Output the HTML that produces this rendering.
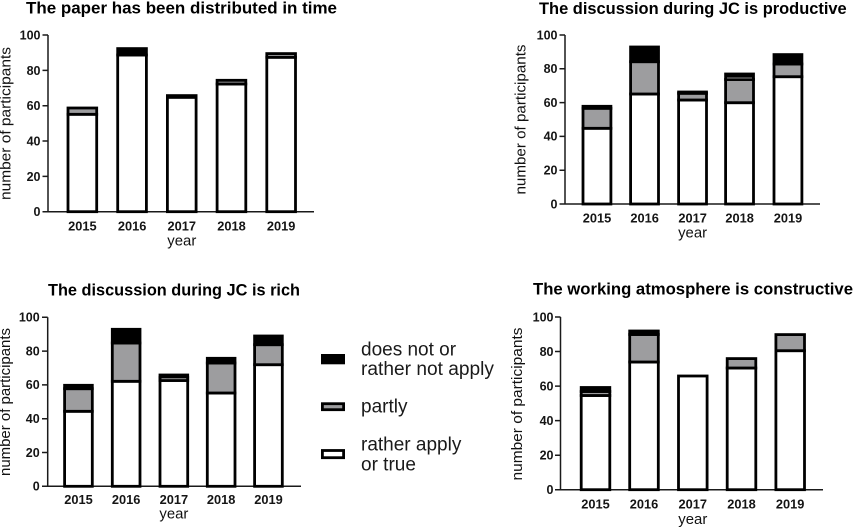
<!DOCTYPE html>
<html><head><meta charset="utf-8"><style>
html,body{margin:0;padding:0;background:#fff;}
svg{display:block;}
text{font-family:"Liberation Sans",Arial,sans-serif;fill:#151515;}
.t{font-weight:bold;font-size:17px;fill:#000;}
.tk{font-weight:bold;font-size:12.5px;fill:#1c1c1c;}
.yl{font-size:15px;fill:#111;}
.xl{font-size:15px;fill:#111;}
.lg{font-size:19px;fill:#1a1a1a;}
.ax{stroke:#1a1a1a;stroke-width:1.5;fill:none;}
.w{fill:#fff;stroke:#000;stroke-width:2.8;}
.g{fill:#9d9d9f;stroke:#000;stroke-width:2.8;}
.b{fill:#000;stroke:#000;stroke-width:2.8;}
</style></head><body>
<svg width="854" height="528" viewBox="0 0 854 528" xmlns="http://www.w3.org/2000/svg">
<rect width="854" height="528" fill="#fff"/>

<!-- ============ TOP LEFT ============ -->
<text class="t" x="26" y="13.5" textLength="311" lengthAdjust="spacingAndGlyphs">The paper has been distributed in time</text>
<path class="ax" d="M48 35 V211.7 H314 M42.5 35 H48 M42.5 70.4 H48 M42.5 105.7 H48 M42.5 141 H48 M42.5 176.4 H48 M42.5 211.7 H48"/>
<g class="tk" text-anchor="end">
<text x="40.5" y="39.5">100</text><text x="40.5" y="74.8">80</text><text x="40.5" y="110.1">60</text>
<text x="40.5" y="145.4">40</text><text x="40.5" y="180.8">20</text><text x="40.5" y="216.1">0</text>
</g>
<text class="yl" transform="translate(10.5,123.5) rotate(-90)" text-anchor="middle" textLength="153" lengthAdjust="spacingAndGlyphs">number of participants</text>
<rect class="w" x="68" y="114.3" width="28.7" height="97.4"/><rect class="g" x="68" y="108" width="28.7" height="6.3"/>
<rect class="w" x="117.7" y="55" width="28.7" height="156.7"/><rect class="b" x="117.7" y="48.6" width="28.7" height="6.4"/>
<rect class="w" x="167.4" y="97.3" width="28.7" height="114.4"/><rect class="b" x="167.4" y="95.6" width="28.7" height="1.7"/>
<rect class="w" x="217.1" y="84" width="28.7" height="127.7"/><rect class="g" x="217.1" y="80.3" width="28.7" height="3.7"/>
<rect class="w" x="266.8" y="57.3" width="28.7" height="154.4"/><rect class="g" x="266.8" y="53.6" width="28.7" height="3.7"/>
<g class="tk" text-anchor="middle">
<text x="82.4" y="230.7" textLength="28.5" lengthAdjust="spacingAndGlyphs">2015</text>
<text x="132.1" y="230.7" textLength="28.5" lengthAdjust="spacingAndGlyphs">2016</text>
<text x="181.8" y="230.7" textLength="28.5" lengthAdjust="spacingAndGlyphs">2017</text>
<text x="231.5" y="230.7" textLength="28.5" lengthAdjust="spacingAndGlyphs">2018</text>
<text x="281.2" y="230.7" textLength="28.5" lengthAdjust="spacingAndGlyphs">2019</text>
</g>
<text class="xl" x="181.8" y="245.5" text-anchor="middle" textLength="29" lengthAdjust="spacingAndGlyphs">year</text>

<!-- ============ TOP RIGHT ============ -->
<text class="t" x="539" y="14" textLength="307.7" lengthAdjust="spacingAndGlyphs">The discussion during JC is productive</text>
<path class="ax" d="M565 35 V204 H820 M559.5 35 H565 M559.5 68.8 H565 M559.5 102.6 H565 M559.5 136.4 H565 M559.5 170.2 H565 M559.5 204 H565"/>
<g class="tk" text-anchor="end">
<text x="557.5" y="39.3">100</text><text x="557.5" y="73.1">80</text><text x="557.5" y="106.9">60</text>
<text x="557.5" y="140.7">40</text><text x="557.5" y="174.5">20</text><text x="557.5" y="208.3">0</text>
</g>
<text class="yl" transform="translate(525.5,119.5) rotate(-90)" text-anchor="middle" textLength="150" lengthAdjust="spacingAndGlyphs">number of participants</text>
<rect class="w" x="583" y="128.3" width="27.9" height="75.7"/><rect class="g" x="583" y="108.3" width="27.9" height="20"/><rect class="b" x="583" y="106.3" width="27.9" height="2"/>
<rect class="w" x="630.6" y="94" width="27.9" height="110"/><rect class="g" x="630.6" y="61.7" width="27.9" height="32.3"/><rect class="b" x="630.6" y="47" width="27.9" height="14.7"/>
<rect class="w" x="678.6" y="100" width="27.9" height="104"/><rect class="g" x="678.6" y="93.3" width="27.9" height="6.7"/><rect class="b" x="678.6" y="92" width="27.9" height="1.3"/>
<rect class="w" x="725.6" y="102.7" width="27.9" height="101.3"/><rect class="g" x="725.6" y="79.5" width="27.9" height="23.2"/><rect class="b" x="725.6" y="74" width="27.9" height="5.5"/>
<line x1="727" y1="78" x2="752" y2="78" stroke="#8a8a8a" stroke-width="1"/>
<rect class="w" x="774" y="76.7" width="27.9" height="127.3"/><rect class="g" x="774" y="64" width="27.9" height="12.7"/><rect class="b" x="774" y="54.6" width="27.9" height="9.4"/>
<g class="tk" text-anchor="middle">
<text x="597" y="222.3" textLength="28.5" lengthAdjust="spacingAndGlyphs">2015</text>
<text x="644.6" y="222.3" textLength="28.5" lengthAdjust="spacingAndGlyphs">2016</text>
<text x="692.6" y="222.3" textLength="28.5" lengthAdjust="spacingAndGlyphs">2017</text>
<text x="739.6" y="222.3" textLength="28.5" lengthAdjust="spacingAndGlyphs">2018</text>
<text x="788" y="222.3" textLength="28.5" lengthAdjust="spacingAndGlyphs">2019</text>
</g>
<text class="xl" x="692.6" y="237.7" text-anchor="middle" textLength="29" lengthAdjust="spacingAndGlyphs">year</text>

<!-- ============ BOTTOM LEFT ============ -->
<text class="t" x="48" y="295.3" textLength="252" lengthAdjust="spacingAndGlyphs">The discussion during JC is rich</text>
<path class="ax" d="M47.7 317.3 V486.3 H301 M42 317.3 H47.7 M42 351.1 H47.7 M42 384.9 H47.7 M42 418.7 H47.7 M42 452.5 H47.7 M42 486.3 H47.7"/>
<g class="tk" text-anchor="end">
<text x="39.7" y="321.6">100</text><text x="39.7" y="355.4">80</text><text x="39.7" y="389.2">60</text>
<text x="39.7" y="423">40</text><text x="39.7" y="456.8">20</text><text x="39.7" y="490.6">0</text>
</g>
<text class="yl" transform="translate(10,402) rotate(-90)" text-anchor="middle" textLength="148" lengthAdjust="spacingAndGlyphs">number of participants</text>
<rect class="w" x="64.6" y="411.3" width="27.7" height="75"/><rect class="g" x="64.6" y="388.7" width="27.7" height="22.6"/><rect class="b" x="64.6" y="385.3" width="27.7" height="3.4"/>
<rect class="w" x="112.3" y="381.3" width="27.7" height="105"/><rect class="g" x="112.3" y="343" width="27.7" height="38.3"/><rect class="b" x="112.3" y="329.3" width="27.7" height="13.7"/>
<rect class="w" x="160" y="380.5" width="27.7" height="105.8"/><rect class="g" x="160" y="377.5" width="27.7" height="3"/><rect class="b" x="160" y="375" width="27.7" height="2.5"/>
<line x1="161.5" y1="378.6" x2="186.2" y2="378.6" stroke="#8a8a8a" stroke-width="1"/>
<rect class="w" x="207.3" y="393" width="27.7" height="93.3"/><rect class="g" x="207.3" y="363" width="27.7" height="30"/><rect class="b" x="207.3" y="358.3" width="27.7" height="4.7"/>
<rect class="w" x="254.6" y="364.7" width="27.7" height="121.6"/><rect class="g" x="254.6" y="344.7" width="27.7" height="20"/><rect class="b" x="254.6" y="336" width="27.7" height="8.7"/>
<g class="tk" text-anchor="middle">
<text x="78.5" y="504" textLength="28.5" lengthAdjust="spacingAndGlyphs">2015</text>
<text x="126.2" y="504" textLength="28.5" lengthAdjust="spacingAndGlyphs">2016</text>
<text x="173.9" y="504" textLength="28.5" lengthAdjust="spacingAndGlyphs">2017</text>
<text x="221.2" y="504" textLength="28.5" lengthAdjust="spacingAndGlyphs">2018</text>
<text x="268.5" y="504" textLength="28.5" lengthAdjust="spacingAndGlyphs">2019</text>
</g>
<text class="xl" x="173.9" y="518.7" text-anchor="middle" textLength="29" lengthAdjust="spacingAndGlyphs">year</text>

<!-- ============ LEGEND ============ -->
<rect x="321" y="354" width="24" height="10.3" fill="#000"/>
<rect x="322.4" y="403.7" width="21.2" height="6" fill="#9d9d9f" stroke="#000" stroke-width="2.8"/>
<rect x="322.4" y="450.5" width="21.2" height="7.2" fill="#fff" stroke="#000" stroke-width="2.8"/>
<text class="lg" x="361" y="355.7">does not or</text>
<text class="lg" x="361" y="375.2" textLength="133" lengthAdjust="spacingAndGlyphs">rather not apply</text>
<text class="lg" x="361" y="412.3">partly</text>
<text class="lg" x="361" y="450.5">rather apply</text>
<text class="lg" x="361" y="470.3">or true</text>

<!-- ============ BOTTOM RIGHT ============ -->
<text class="t" x="533" y="294.7" textLength="320" lengthAdjust="spacingAndGlyphs">The working atmosphere is constructive</text>
<path class="ax" d="M560.5 317 V489.7 H823 M555 317 H560.5 M555 351.5 H560.5 M555 386.1 H560.5 M555 420.6 H560.5 M555 455.2 H560.5 M555 489.7 H560.5"/>
<g class="tk" text-anchor="end">
<text x="553.5" y="321.3">100</text><text x="553.5" y="355.8">80</text><text x="553.5" y="390.4">60</text>
<text x="553.5" y="424.9">40</text><text x="553.5" y="459.5">20</text><text x="553.5" y="494">0</text>
</g>
<text class="yl" transform="translate(522,404) rotate(-90)" text-anchor="middle" textLength="153" lengthAdjust="spacingAndGlyphs">number of participants</text>
<rect class="w" x="581.2" y="395.5" width="28.6" height="94.2"/><rect class="g" x="581.2" y="391.5" width="28.6" height="4"/><rect class="b" x="581.2" y="387.5" width="28.6" height="4"/>
<rect class="w" x="629.7" y="362" width="28.6" height="127.7"/><rect class="g" x="629.7" y="334.5" width="28.6" height="27.5"/><rect class="b" x="629.7" y="331" width="28.6" height="3.5"/>
<rect class="w" x="678.5" y="376" width="28.6" height="113.7"/>
<rect class="w" x="727.2" y="368" width="28.6" height="121.7"/><rect class="g" x="727.2" y="358.6" width="28.6" height="9.4"/>
<rect class="w" x="775.9" y="350.7" width="28.6" height="139"/><rect class="g" x="775.9" y="334.6" width="28.6" height="16.1"/>
<g class="tk" text-anchor="middle">
<text x="595.5" y="508.7" textLength="28.5" lengthAdjust="spacingAndGlyphs">2015</text>
<text x="644" y="508.7" textLength="28.5" lengthAdjust="spacingAndGlyphs">2016</text>
<text x="692.8" y="508.7" textLength="28.5" lengthAdjust="spacingAndGlyphs">2017</text>
<text x="741.5" y="508.7" textLength="28.5" lengthAdjust="spacingAndGlyphs">2018</text>
<text x="790.2" y="508.7" textLength="28.5" lengthAdjust="spacingAndGlyphs">2019</text>
</g>
<text class="xl" x="692.8" y="524" text-anchor="middle" textLength="29" lengthAdjust="spacingAndGlyphs">year</text>
</svg>
</body></html>
